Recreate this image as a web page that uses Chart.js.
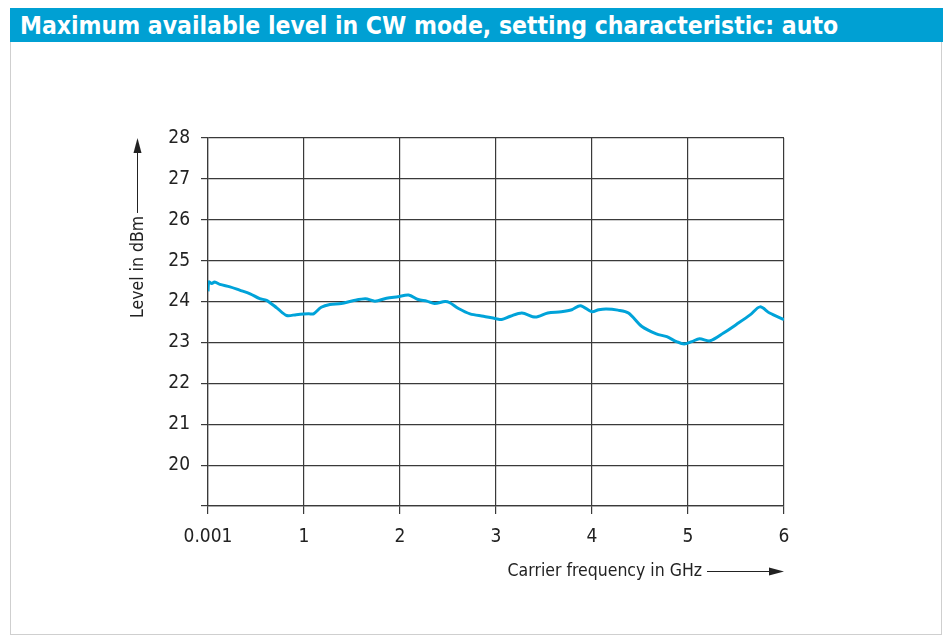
<!DOCTYPE html>
<html lang="en">
<head>
  <meta charset="UTF-8">
  <title>Maximum available level in CW mode</title>
  <script src="https://cdn.jsdelivr.net/npm/chart.js"></script>
  <style>
    html, body { margin: 0; padding: 0; background: #fff; }
    body { width: 944px; height: 637px; position: relative; overflow: hidden; }
    .frame {
      position: absolute; left: 10px; top: 8px; width: 932px; height: 627px;
      border: 1px solid #cfcfcf; border-top: none; box-sizing: border-box;
    }
    .title-bar {
      position: absolute; left: 10px; top: 8px; width: 933px; height: 34px;
      background: #00a0d3; color: #fff; z-index: 2;
      font-family: 'Liberation Sans Narrow', 'DejaVu Sans Condensed', sans-serif;
      font-weight: bold; font-size: 24.5px; line-height: 35px;
      padding-left: 10px; box-sizing: border-box; white-space: nowrap;
    }
    #levelChart { position: absolute; left: 0; top: 0; z-index: 1; }
  </style>
</head>
<body>

<div class="frame"></div>
<div class="title-bar">Maximum available level in CW mode, setting characteristic: auto</div>
<canvas id="levelChart" width="944" height="637"></canvas>

<script>
// carrier frequency in GHz and level in dBm
const freqGHz = [0.001, 0.01, 0.04, 0.07, 0.125, 0.23, 0.33, 0.44, 0.54, 0.61,
  0.72, 0.82, 0.92, 1.05, 1.10, 1.18, 1.27, 1.39, 1.51, 1.64,
  1.74, 1.86, 1.98, 2.09, 2.19, 2.28, 2.36, 2.47, 2.52, 2.61,
  2.73, 2.87, 3.00, 3.06, 3.15, 3.27, 3.41, 3.54, 3.68, 3.79,
  3.88, 4.00, 4.07, 4.15, 4.27, 4.38, 4.52, 4.67, 4.78, 4.88,
  4.96, 5.04, 5.12, 5.23, 5.37, 5.51, 5.65, 5.75, 5.85, 6.00];
const levelDbm = [24.25, 24.48, 24.44, 24.48, 24.42, 24.36, 24.28, 24.19, 24.07, 24.03,
  23.84, 23.66, 23.68, 23.70, 23.70, 23.86, 23.93, 23.95, 24.02, 24.07,
  24.01, 24.08, 24.12, 24.16, 24.05, 24.01, 23.95, 24.00, 23.97, 23.83,
  23.70, 23.64, 23.58, 23.56, 23.64, 23.72, 23.62, 23.72, 23.75, 23.80,
  23.90, 23.75, 23.80, 23.82, 23.79, 23.72, 23.39, 23.21, 23.14, 23.02,
  22.96, 23.02, 23.09, 23.04, 23.23, 23.45, 23.68, 23.87, 23.72, 23.56];

const xTicks = [0.001, 1, 2, 3, 4, 5, 6];
const xTickLabels = ['0.001', '1', '2', '3', '4', '5', '6'];
const yMin = 19, yMax = 28;

const FONT = "'Liberation Sans Narrow', 'DejaVu Sans Condensed', sans-serif";
const INK = '#222';
const GRID = '#3a3a3a';

// axis titles with the long arrows
const axisArrows = {
  id: 'axisArrows',
  afterDraw(chart) {
    const { ctx, chartArea: a } = chart;
    ctx.save();
    ctx.fillStyle = INK;
    ctx.strokeStyle = INK;
    ctx.lineWidth = 1;
    ctx.font = '17.5px ' + FONT;

    // y title, reading upwards
    const yx = 138, yStart = 318;
    const yText = 'Level in dBm';
    const yw = ctx.measureText(yText).width;
    ctx.save();
    ctx.translate(yx, yStart);
    ctx.rotate(-Math.PI / 2);
    ctx.textAlign = 'left';
    ctx.textBaseline = 'middle';
    ctx.fillText(yText, 0, 0);
    ctx.restore();
    ctx.beginPath();
    ctx.moveTo(yx - 0.5, yStart - yw - 3);
    ctx.lineTo(yx - 0.5, a.top + 12);
    ctx.stroke();
    ctx.beginPath();
    ctx.moveTo(yx - 0.5, a.top);
    ctx.lineTo(yx - 4.5, a.top + 15);
    ctx.lineTo(yx + 3.5, a.top + 15);
    ctx.closePath();
    ctx.fill();

    // x title, reading right
    const xy = 571, tip = a.right;
    const xText = 'Carrier frequency in GHz';
    ctx.textAlign = 'right';
    ctx.textBaseline = 'middle';
    ctx.fillText(xText, tip - 82, xy);
    ctx.beginPath();
    ctx.moveTo(tip - 77, xy + 0.5);
    ctx.lineTo(tip - 12, xy + 0.5);
    ctx.stroke();
    ctx.beginPath();
    ctx.moveTo(tip, xy + 0.5);
    ctx.lineTo(tip - 15, xy - 3.5);
    ctx.lineTo(tip - 15, xy + 4.5);
    ctx.closePath();
    ctx.fill();
    ctx.restore();
  }
};

const chart = new Chart(document.getElementById('levelChart'), {
  type: 'line',
  data: {
    datasets: [{
      data: freqGHz.map((f, i) => ({ x: f, y: levelDbm[i] })),
      borderColor: '#00a3d9',
      borderWidth: 3,
      pointRadius: 0,
      fill: false,
      tension: 0.3
    }]
  },
  options: {
    responsive: false,
    animation: false,
    layout: { padding: { left: 150, right: 160, top: 138, bottom: 86 } },
    plugins: { legend: { display: false }, tooltip: { enabled: false } },
    scales: {
      x: {
        type: 'linear',
        min: 0.001,
        max: 6,
        afterBuildTicks: s => { s.ticks = xTicks.map(v => ({ value: v })); },
        afterFit: s => { s.height = 45; },
        grid: { color: GRID, lineWidth: 1.2, tickLength: 8 },
        border: { color: GRID, width: 1.2 },
        ticks: {
          color: INK,
          padding: 12,
          maxRotation: 0,
          font: { family: FONT, size: 19 },
          callback: (v, i) => xTickLabels[i]
        }
      },
      y: {
        min: yMin,
        max: yMax,
        afterFit: s => { s.width = 58; },
        grid: { color: GRID, lineWidth: 1.2, tickLength: 7 },
        border: { color: GRID, width: 1.2 },
        ticks: {
          stepSize: 1,
          color: INK,
          padding: 11,
          font: { family: FONT, size: 19 },
          callback: v => (v === yMin ? '' : v)
        }
      }
    }
  },
  plugins: [axisArrows]
});
</script>

</body>
</html>
